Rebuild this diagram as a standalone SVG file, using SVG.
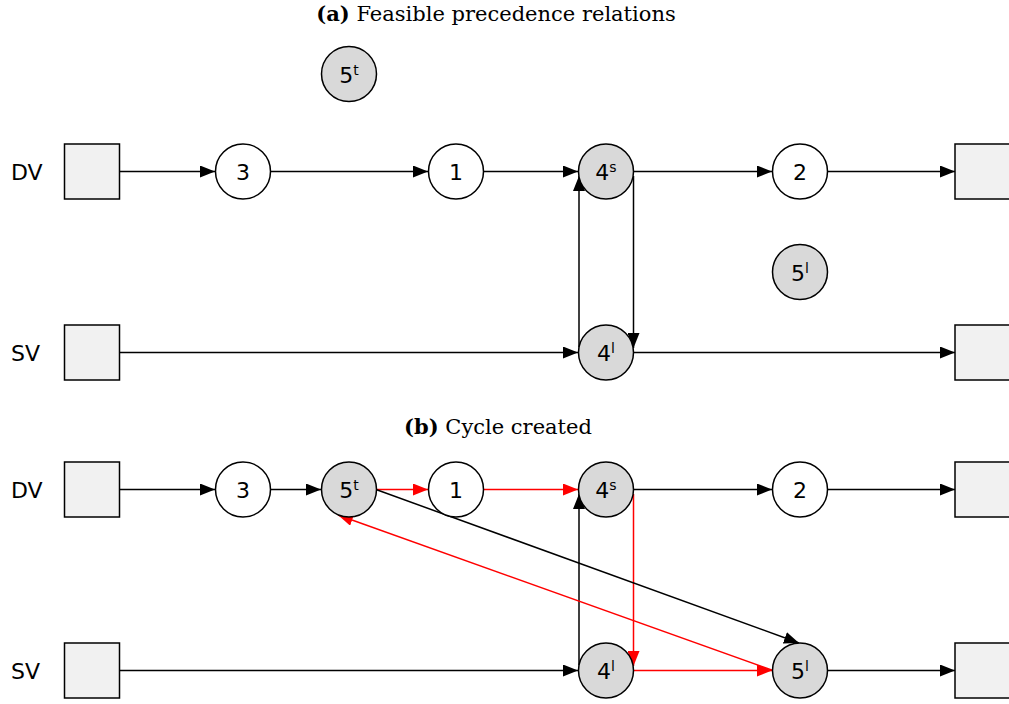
<svg xmlns="http://www.w3.org/2000/svg" width="1009" height="704" viewBox="0 0 1009 704">
<style>
.sq{fill:#f1f1f1;stroke:#000;stroke-width:1.5}
.w{fill:#fff;stroke:#000;stroke-width:1.5}
.g{fill:#d9d9d9;stroke:#000;stroke-width:1.5}
.lbl{font-family:"DejaVu Sans",sans-serif;font-size:22px;fill:#000}
.nt{font-family:"DejaVu Sans",sans-serif;font-size:22px;fill:#000;text-anchor:middle}
.sup{font-size:14px}
.title{font-family:"DejaVu Serif","Liberation Serif",serif;font-size:21px;text-anchor:middle;fill:#000}
.k{stroke:#000;stroke-width:1.5;fill:none}
.r{stroke:#f00;stroke-width:1.5;fill:none}
</style>
<defs>
<marker id="ak" markerWidth="16" markerHeight="12" refX="15" refY="6" orient="auto" markerUnits="userSpaceOnUse"><path d="M0,0 L15,6 L0,12 Z" fill="#000"/></marker>
<marker id="ar" markerWidth="16" markerHeight="12" refX="15" refY="6" orient="auto" markerUnits="userSpaceOnUse"><path d="M0,0 L15,6 L0,12 Z" fill="#f00"/></marker>
</defs>
<text class="title" x="496" y="21"><tspan font-weight="bold">(a)</tspan> Feasible precedence relations</text>
<text class="title" x="498" y="434"><tspan font-weight="bold">(b)</tspan> Cycle created</text>
<text class="lbl" x="11" y="180">DV</text>
<text class="lbl" x="11" y="361">SV</text>
<text class="lbl" x="11" y="498">DV</text>
<text class="lbl" x="11" y="679">SV</text>
<g id="connectors">
<line class="k" x1="119.5" y1="171.5" x2="215" y2="171.5" marker-end="url(#ak)"/>
<line class="k" x1="271" y1="171.5" x2="428" y2="171.5" marker-end="url(#ak)"/>
<line class="k" x1="484" y1="171.5" x2="578" y2="171.5" marker-end="url(#ak)"/>
<line class="k" x1="634" y1="171.5" x2="772" y2="171.5" marker-end="url(#ak)"/>
<line class="k" x1="828" y1="171.5" x2="955" y2="171.5" marker-end="url(#ak)"/>
<line class="k" x1="119.5" y1="352.5" x2="578" y2="352.5" marker-end="url(#ak)"/>
<line class="k" x1="634" y1="352.5" x2="955" y2="352.5" marker-end="url(#ak)"/>
<line class="k" x1="579" y1="347" x2="579" y2="176" marker-end="url(#ak)"/>
<line class="k" x1="633.5" y1="176" x2="633.5" y2="348" marker-end="url(#ak)"/>
<line class="k" x1="119.5" y1="489.5" x2="215" y2="489.5" marker-end="url(#ak)"/>
<line class="k" x1="271" y1="489.5" x2="321" y2="489.5" marker-end="url(#ak)"/>
<line class="r" x1="377" y1="489.5" x2="428" y2="489.5" marker-end="url(#ar)"/>
<line class="r" x1="484" y1="489.5" x2="578" y2="489.5" marker-end="url(#ar)"/>
<line class="k" x1="634" y1="489.5" x2="772" y2="489.5" marker-end="url(#ak)"/>
<line class="k" x1="828" y1="489.5" x2="955" y2="489.5" marker-end="url(#ak)"/>
<line class="k" x1="119.5" y1="670.5" x2="578" y2="670.5" marker-end="url(#ak)"/>
<line class="r" x1="634" y1="670.5" x2="772" y2="670.5" marker-end="url(#ar)"/>
<line class="k" x1="828" y1="670.5" x2="955" y2="670.5" marker-end="url(#ak)"/>
<line class="k" x1="579" y1="665" x2="579" y2="494" marker-end="url(#ak)"/>
<line class="r" x1="633.5" y1="494" x2="633.5" y2="666" marker-end="url(#ar)"/>
<line class="k" x1="376" y1="489.5" x2="799" y2="643" marker-end="url(#ak)"/>
<line class="r" x1="773" y1="670.5" x2="338" y2="515" marker-end="url(#ar)"/>
</g>
<g id="a-dv-start"><rect class="sq" x="64.5" y="144" width="55" height="55"/></g>
<g id="a-sv-start"><rect class="sq" x="64.5" y="325" width="55" height="55"/></g>
<g id="a-dv-end"><rect class="sq" x="955" y="144" width="55" height="55"/></g>
<g id="a-sv-end"><rect class="sq" x="955" y="325" width="55" height="55"/></g>
<g id="a-n3"><circle class="w" cx="243" cy="171.5" r="27.5"/><text class="nt" x="243" y="180">3</text></g>
<g id="a-n1"><circle class="w" cx="456" cy="171.5" r="27.5"/><text class="nt" x="456" y="180">1</text></g>
<g id="a-n4s"><circle class="g" cx="606" cy="171.5" r="27.5"/><text class="nt" x="606" y="180">4<tspan class="sup" dy="-8">s</tspan></text></g>
<g id="a-n2"><circle class="w" cx="800" cy="171.5" r="27.5"/><text class="nt" x="800" y="180">2</text></g>
<g id="a-n5t"><circle class="g" cx="349" cy="74" r="27.5"/><text class="nt" x="349" y="82.5">5<tspan class="sup" dy="-8">t</tspan></text></g>
<g id="a-n5l"><circle class="g" cx="800" cy="272" r="27.5"/><text class="nt" x="800" y="280.5">5<tspan class="sup" dy="-8">l</tspan></text></g>
<g id="a-n4l"><circle class="g" cx="606" cy="352.5" r="27.5"/><text class="nt" x="606" y="361">4<tspan class="sup" dy="-8">l</tspan></text></g>
<g id="b-dv-start"><rect class="sq" x="64.5" y="462" width="55" height="55"/></g>
<g id="b-sv-start"><rect class="sq" x="64.5" y="643" width="55" height="55"/></g>
<g id="b-dv-end"><rect class="sq" x="955" y="462" width="55" height="55"/></g>
<g id="b-sv-end"><rect class="sq" x="955" y="643" width="55" height="55"/></g>
<g id="b-n3"><circle class="w" cx="243" cy="489.5" r="27.5"/><text class="nt" x="243" y="498">3</text></g>
<g id="b-n5t"><circle class="g" cx="349" cy="489.5" r="27.5"/><text class="nt" x="349" y="498">5<tspan class="sup" dy="-8">t</tspan></text></g>
<g id="b-n1"><circle class="w" cx="456" cy="489.5" r="27.5"/><text class="nt" x="456" y="498">1</text></g>
<g id="b-n4s"><circle class="g" cx="606" cy="489.5" r="27.5"/><text class="nt" x="606" y="498">4<tspan class="sup" dy="-8">s</tspan></text></g>
<g id="b-n2"><circle class="w" cx="800" cy="489.5" r="27.5"/><text class="nt" x="800" y="498">2</text></g>
<g id="b-n4l"><circle class="g" cx="606" cy="670.5" r="27.5"/><text class="nt" x="606" y="679">4<tspan class="sup" dy="-8">l</tspan></text></g>
<g id="b-n5l"><circle class="g" cx="800" cy="670.5" r="27.5"/><text class="nt" x="800" y="679">5<tspan class="sup" dy="-8">l</tspan></text></g>
</svg>
